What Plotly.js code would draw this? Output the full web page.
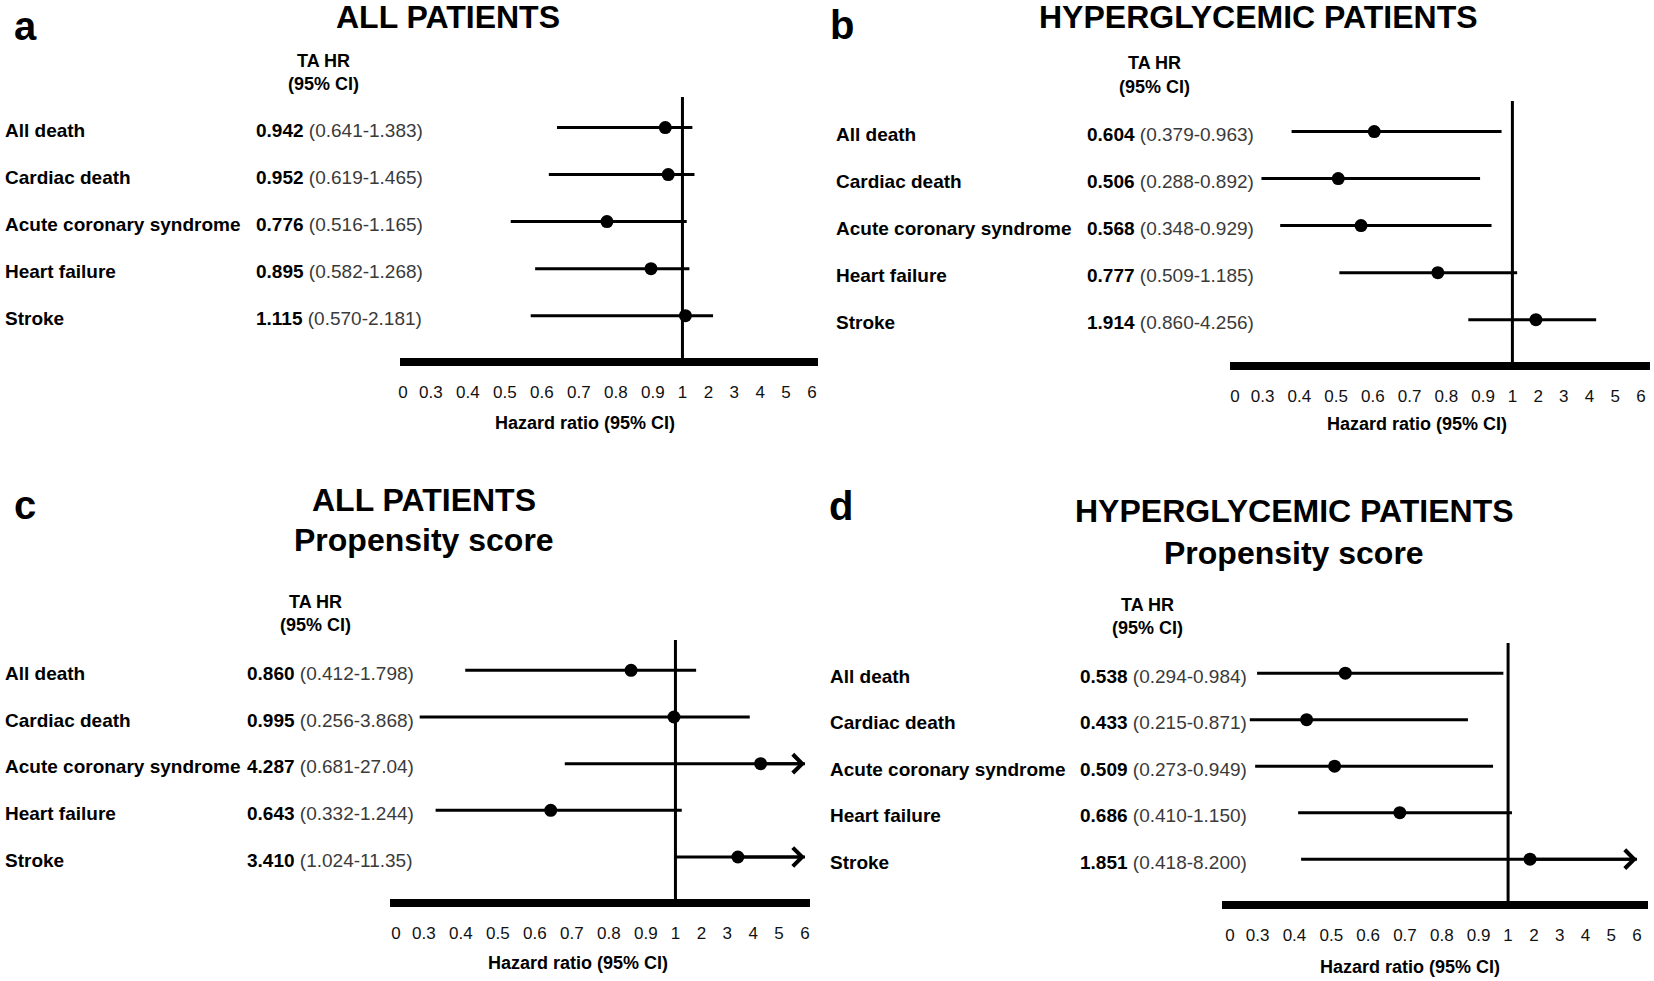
<!DOCTYPE html>
<html><head><meta charset="utf-8">
<script src="https://cdn.plot.ly/plotly-3.0.1.min.js"></script>
<style>html,body{margin:0;padding:0;background:#fff}#chart{width:1654px;height:981px}</style>
</head><body><div id="chart"></div>
<script>
// ---------------- DATA ----------------
const outcomes = ['All death', 'Cardiac death', 'Acute coronary syndrome', 'Heart failure', 'Stroke'];

// a: all patients
const hrA = [0.942, 0.952, 0.776, 0.895, 1.115];
const loA = [0.641, 0.619, 0.516, 0.582, 0.570];
const hiA = [1.383, 1.465, 1.165, 1.268, 2.181];
// b: hyperglycemic patients
const hrB = [0.604, 0.506, 0.568, 0.777, 1.914];
const loB = [0.379, 0.288, 0.348, 0.509, 0.860];
const hiB = [0.963, 0.892, 0.929, 1.185, 4.256];
// c: all patients, propensity score
const hrC = [0.860, 0.995, 4.287, 0.643, 3.410];
const loC = [0.412, 0.256, 0.681, 0.332, 1.024];
const hiC = [1.798, 3.868, 27.04, 1.244, 11.35];
// d: hyperglycemic patients, propensity score
const hrD = [0.538, 0.433, 0.509, 0.686, 1.851];
const loD = [0.294, 0.215, 0.273, 0.410, 0.418];
const hiD = [0.984, 0.871, 0.949, 1.150, 8.200];

const tickValues = [0, 0.3, 0.4, 0.5, 0.6, 0.7, 0.8, 0.9, 1, 2, 3, 4, 5, 6];
const tickLabels = ['0', '0.3', '0.4', '0.5', '0.6', '0.7', '0.8', '0.9', '1', '2', '3', '4', '5', '6'];

const panelLetters = ['a', 'b', 'c', 'd'];
const panelTitles = [
  ['ALL PATIENTS'],
  ['HYPERGLYCEMIC PATIENTS'],
  ['ALL PATIENTS', 'Propensity score'],
  ['HYPERGLYCEMIC PATIENTS', 'Propensity score']
];
const columnHeader = ['TA HR', '(95% CI)'];
const axisTitle = 'Hazard ratio (95% CI)';

// ---------------- LAYOUT GEOMETRY (pixels) ----------------
const W = 1654, H = 981;
const FONT = 'Liberation Sans, Arial, Helvetica, sans-serif';
const geometry = [
  {barL: 400, barR: 818, zero: 403, six: 812, top: 97, barY: 362, labelX: 3, valueX: 254,
   taX: 323, taY: [61, 84], titleX: 448, titleY: [17], letterX: 25, letterY: 26, hzX: 585, hzY: 423},
  {barL: 1230, barR: 1650, zero: 1235, six: 1641, top: 101, barY: 366, labelX: 834, valueX: 1085,
   taX: 1154, taY: [63, 87], titleX: 1258, titleY: [17], letterX: 842, letterY: 25, hzX: 1417, hzY: 424},
  {barL: 390, barR: 810, zero: 396, six: 805, top: 640, barY: 903, labelX: 3, valueX: 245,
   taX: 315, taY: [602, 625], titleX: 424, titleY: [500, 540], letterX: 25, letterY: 505, hzX: 578, hzY: 963},
  {barL: 1222, barR: 1648, zero: 1230, six: 1637, top: 643, barY: 905, labelX: 828, valueX: 1078,
   taX: 1147, taY: [605, 628], titleX: 1294, titleY: [511, 553], letterX: 841, letterY: 506, hzX: 1410, hzY: 967}
];

// ---------------- CUSTOM SCALE (piecewise, as in the original figure) ----------------
const tickPos = [0];
for (let i = 1; i < tickValues.length; i++) {
  const a = tickValues[i - 1], b = tickValues[i];
  let g;
  if (a === 0) g = 0.75;
  else if (b <= 0.95) g = 1;
  else if (b === 1) g = 0.8;
  else g = 0.7;
  tickPos.push(tickPos[i - 1] + g);
}
const lastPos = tickPos[tickPos.length - 1];
function pos(v) {
  if (v <= tickValues[0]) return tickPos[0];
  for (let i = 1; i < tickValues.length; i++) {
    if (v <= tickValues[i]) {
      const a = tickValues[i - 1], b = tickValues[i];
      return tickPos[i - 1] + (v - a) / (b - a) * (tickPos[i] - tickPos[i - 1]);
    }
  }
  return lastPos;
}
function fmt(v) { return v >= 10 ? v.toFixed(2) : v.toFixed(3); }

const series = [
  {hr: hrA, lo: loA, hi: hiA},
  {hr: hrB, lo: loB, hi: hiB},
  {hr: hrC, lo: loC, hi: hiC},
  {hr: hrD, lo: loD, hi: hiD}
];

const traces = [];
const annotations = [];
const shapes = [];
const layout = {
  width: W, height: H,
  margin: {l: 0, r: 0, t: 0, b: 0},
  paper_bgcolor: '#fff', plot_bgcolor: 'rgba(0,0,0,0)',
  showlegend: false,
  font: {family: FONT, color: '#000'}
};

const YMIN = -0.65, YMAX = 4.9;

series.forEach((s, k) => {
  const g = geometry[k];
  const sfx = k === 0 ? '' : String(k + 1);
  const xa = 'x' + sfx, ya = 'y' + sfx;
  const pxPerUnit = (g.six - g.zero) / lastPos;
  const rows = outcomes.map((_, i) => i);
  const xs = s.hr.map(pos);

  traces.push({
    type: 'scatter', mode: 'markers', x: xs, y: rows, xaxis: xa, yaxis: ya,
    marker: {color: '#000', size: 13},
    error_x: {
      type: 'data', symmetric: false,
      array: s.hi.map((h, i) => pos(h) - xs[i]),
      arrayminus: s.lo.map((l, i) => xs[i] - pos(l)),
      color: '#000', thickness: 3, width: 0
    },
    cliponaxis: false, hoverinfo: 'skip', showlegend: false
  });

  layout['xaxis' + sfx] = {
    domain: [g.barL / W, g.barR / W],
    range: [(g.barL - g.zero) / pxPerUnit, (g.barR - g.zero) / pxPerUnit],
    anchor: ya, showgrid: false, zeroline: false,
    showline: true, linecolor: '#000', linewidth: 8,
    ticks: '', tickmode: 'array', tickvals: tickPos, ticktext: tickLabels,
    tickfont: {family: FONT, size: 17, color: '#111'},
    ticklabelstandoff: 12, fixedrange: true
  };
  layout['yaxis' + sfx] = {
    domain: [1 - (g.barY - 4) / H, 1 - g.top / H],
    range: [YMAX, YMIN], anchor: xa, visible: false,
    showgrid: false, zeroline: false, fixedrange: true
  };

  // reference line at HR = 1
  shapes.push({type: 'line', xref: xa, yref: ya + ' domain', x0: pos(1), x1: pos(1), y0: 0, y1: 1,
    line: {color: '#000', width: 3}});

  // arrows for CIs beyond the axis
  s.hi.forEach((h, i) => {
    if (h > tickValues[tickValues.length - 1]) {
      annotations.push({xref: xa, yref: ya, axref: xa, ayref: ya,
        x: lastPos, y: i, ax: xs[i], ay: i, text: '', showarrow: true,
        arrowhead: 4, arrowsize: 1.2, arrowwidth: 3, arrowcolor: '#000', standoff: 0});
    }
  });

  // row labels and HR texts
  outcomes.forEach((name, i) => {
    annotations.push({xref: 'paper', yref: ya, x: g.labelX / W, y: i, yshift: -3,
      xanchor: 'left', yanchor: 'middle', showarrow: false,
      text: '<b>' + name + '</b>', font: {family: FONT, size: 19, color: '#000'}});
    annotations.push({xref: 'paper', yref: ya, x: g.valueX / W, y: i, yshift: -3,
      xanchor: 'left', yanchor: 'middle', showarrow: false,
      text: '<b>' + fmt(s.hr[i]) + '</b> <span style="color:#3a3a3a">(' + fmt(s.lo[i]) + '-' + fmt(s.hi[i]) + ')</span>',
      font: {family: FONT, size: 19, color: '#000'}});
  });

  // column header
  columnHeader.forEach((t, j) => {
    annotations.push({xref: 'paper', yref: 'paper', x: g.taX / W, y: 1 - g.taY[j] / H,
      xanchor: 'center', yanchor: 'middle', showarrow: false,
      text: '<b>' + t + '</b>', font: {family: FONT, size: 18, color: '#000'}});
  });

  // panel titles
  panelTitles[k].forEach((t, j) => {
    annotations.push({xref: 'paper', yref: 'paper', x: g.titleX / W, y: 1 - g.titleY[j] / H,
      xanchor: 'center', yanchor: 'middle', showarrow: false,
      text: '<b>' + t + '</b>', font: {family: FONT, size: 32, color: '#000'}});
  });

  // panel letter
  annotations.push({xref: 'paper', yref: 'paper', x: g.letterX / W, y: 1 - g.letterY / H,
    xanchor: 'center', yanchor: 'middle', showarrow: false,
    text: '<b>' + panelLetters[k] + '</b>', font: {family: FONT, size: 40, color: '#000'}});

  // axis title
  annotations.push({xref: 'paper', yref: 'paper', x: g.hzX / W, y: 1 - g.hzY / H,
    xanchor: 'center', yanchor: 'middle', showarrow: false,
    text: '<b>' + axisTitle + '</b>', font: {family: FONT, size: 18, color: '#000'}});
});

layout.annotations = annotations;
layout.shapes = shapes;

Plotly.newPlot('chart', traces, layout, {displayModeBar: false, staticPlot: true});
</script>
</body></html>
